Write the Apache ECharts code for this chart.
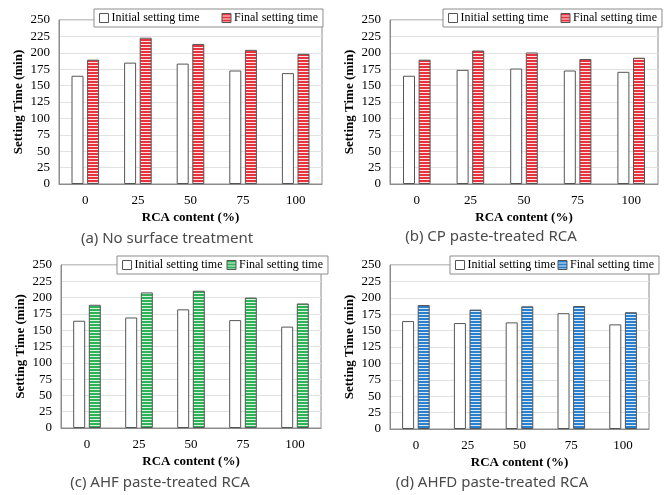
<!DOCTYPE html>
<html>
<head>
<meta charset="utf-8">
<script src="https://cdn.jsdelivr.net/npm/echarts@6/dist/echarts.min.js"></script>
<style>html,body{margin:0;padding:0;background:#fff}#c{width:666px;height:495px}</style>
</head>
<body>
<div id="c"></div>
<script>
const categories = ['0', '25', '50', '75', '100'];
const yTicks = { min: 0, max: 250, interval: 25 };
const initialA = [165, 185, 183.5, 173, 169];
const finalA   = [189.5, 223, 213.5, 204.5, 198.5];
const initialB = [165, 174, 176, 173, 171];
const finalB   = [189.5, 203.5, 200.5, 190.5, 192.5];
const initialC = [164.5, 169.5, 182, 165.5, 155.5];
const finalC   = [189, 208, 210.5, 200, 191];
const initialD = [164.5, 161.5, 162.5, 176.5, 159.5];
const finalD   = [189, 182, 187, 187.5, 178];
const captions = ['(a) No surface treatment', '(b) CP paste-treated RCA', '(c) AHF paste-treated RCA', '(d) AHFD paste-treated RCA'];
const seriesNames = ['Initial setting time', 'Final setting time'];

function stripes(dark, light) {
  const c = document.createElement('canvas');
  c.width = 4; c.height = 3;
  const g = c.getContext('2d');
  g.fillStyle = light; g.fillRect(0, 0, 4, 3);
  g.fillStyle = dark; g.fillRect(0, 0, 4, 2);
  return { image: c, repeat: 'repeat' };
}
const fills = [
  stripes('#e8323c', '#fde2e4'),
  stripes('#e8323c', '#fde2e4'),
  stripes('#2fb257', '#d8f5df'),
  stripes('#2a80cc', '#d6e9f8')
];
const serif = 'Liberation Serif';
const grids = [
  { left: 59, top: 20, width: 263, height: 164 },
  { left: 390, top: 20, width: 268, height: 164 },
  { left: 61, top: 265, width: 260, height: 163 },
  { left: 390, top: 265, width: 259, height: 164 }
];
const legendPos = [
  { left: 94, top: 9, itemGap: 22 },
  { left: 443, top: 9, itemGap: 12 },
  { left: 117, top: 256, itemGap: 4 },
  { left: 450, top: 256, itemGap: 2 }
];
const captionPos = [[167, 239], [491, 237], [160, 483], [492, 483]];
const inits = [initialA, initialB, initialC, initialD];
const finals = [finalA, finalB, finalC, finalD];

const option = {
  animation: false,
  backgroundColor: '#fff',
  grid: grids.map(g => Object.assign({ show: true, borderColor: '#8c8c8c', borderWidth: 1, backgroundColor: 'transparent' }, g)),
  xAxis: grids.map((g, i) => ({
    type: 'category', gridIndex: i, data: categories,
    name: 'RCA content (%)', nameLocation: 'middle', nameGap: 27,
    nameTextStyle: { fontFamily: serif, fontWeight: 'bold', fontSize: 13, color: '#000' },
    axisLine: { lineStyle: { color: '#8c8c8c' } },
    axisTick: { show: false },
    axisLabel: { fontFamily: serif, fontSize: 13, color: '#000', margin: 10 }
  })),
  yAxis: grids.map((g, i) => ({
    type: 'value', gridIndex: i, min: yTicks.min, max: yTicks.max, interval: yTicks.interval,
    name: 'Setting Time (min)', nameLocation: 'middle', nameGap: 34,
    nameTextStyle: { fontFamily: serif, fontWeight: 'bold', fontSize: 13, color: '#000' },
    axisLine: { show: true, lineStyle: { color: '#8c8c8c' } },
    axisTick: { show: false },
    splitLine: { lineStyle: { color: '#e2e2e2' } },
    axisLabel: { fontFamily: serif, fontSize: 13, color: '#000', margin: 9 }
  })),
  legend: legendPos.map((p, i) => ({
    left: p.left, top: p.top, itemGap: p.itemGap,
    selectedMode: false,
    icon: 'rect', itemWidth: 9, itemHeight: 9,
    backgroundColor: '#fff', borderColor: '#8c8c8c', borderWidth: 1,
    padding: [3, 5],
    textStyle: { fontFamily: serif, fontSize: 12, color: '#000', padding: [0, 0, 0, -2] },
    z: 10
  })),
  series: [],
  graphic: captions.map((t, i) => ({
    type: 'text', x: captionPos[i][0], y: captionPos[i][1],
    style: { text: t, fontFamily: 'Noto Sans', fontSize: 15, fill: '#4a4a4a', textAlign: 'center', textVerticalAlign: 'middle' }
  }))
};
for (let i = 0; i < 4; i++) {
  option.series.push({
    name: seriesNames[0], type: 'bar', xAxisIndex: i, yAxisIndex: i,
    data: inits[i], barWidth: 12, barGap: '30%',
    itemStyle: { color: '#fff', borderColor: '#555', borderWidth: 1 }
  });
  option.series.push({
    name: seriesNames[1], type: 'bar', xAxisIndex: i, yAxisIndex: i,
    data: finals[i], barWidth: 12, barGap: '30%',
    itemStyle: { color: fills[i], borderColor: '#555', borderWidth: 1 }
  });
}
option.legend.forEach((lg, i) => {
  lg.data = [
    { name: seriesNames[0], itemStyle: { color: '#fff', borderColor: '#555', borderWidth: 1 } },
    { name: seriesNames[1], itemStyle: { color: fills[i], borderColor: '#555', borderWidth: 1 } }
  ];
});
const chart = echarts.init(document.getElementById('c'), null, { renderer: 'canvas' });
chart.setOption(option);
</script>
</body>
</html>
